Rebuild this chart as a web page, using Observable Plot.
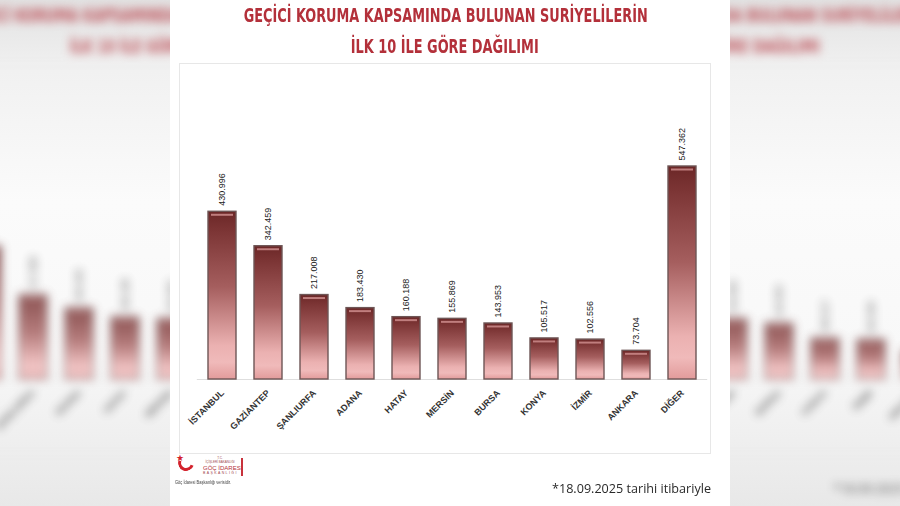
<!DOCTYPE html>
<html><head><meta charset="utf-8">
<script src="https://cdn.jsdelivr.net/npm/d3@7"></script>
<script src="https://cdn.jsdelivr.net/npm/@observablehq/plot@0.6"></script>
<style>
html,body{margin:0;padding:0;width:900px;height:506px;overflow:hidden;}
body{position:relative;background:linear-gradient(#e2e2e2 0%,#f1f1f1 14%,#fbfbfb 40%,#f8f8f8 70%,#e8e8e8 100%);font-family:"Liberation Sans",sans-serif;}
.side{position:absolute;top:0;width:170px;height:506px;overflow:hidden;}
.copy{position:absolute;top:0;width:560px;height:506px;filter:blur(5px);opacity:.8;}
.panel{position:absolute;left:170px;top:0;width:560px;height:506px;background:#fff;z-index:2;}
.title{position:absolute;left:0;width:550px;text-align:center;color:#b3303a;font-family:"Liberation Sans Narrow","DejaVu Sans Condensed",sans-serif;font-weight:bold;font-size:19.5px;line-height:1;white-space:nowrap;}
.fit{display:inline-block;transform-origin:center center;white-space:nowrap;}
.box{position:absolute;left:9px;top:63px;width:532px;height:391px;border:1px solid #e7e7e7;box-sizing:border-box;}
.chart{position:absolute;left:0;top:62px;}
.note{position:absolute;left:382px;top:479px;width:159px;font-family:"Open Sans",sans-serif;font-size:13px;color:#2a2a2a;line-height:18px;white-space:nowrap;}
.note .fit,.src .fit{transform-origin:left center;}
.cres{position:absolute;left:8px;top:455px;width:10px;height:10px;border:3px solid #d3222c;border-radius:50%;border-top-color:transparent;border-right-color:transparent;transform:rotate(-25deg);}
.star{position:absolute;left:6px;top:454px;font-size:9px;color:#d3222c;line-height:1;font-family:"DejaVu Sans",sans-serif;}
.lt{position:absolute;left:33px;width:34px;text-align:center;color:#a04850;font-family:"Liberation Sans",sans-serif;line-height:1;white-space:nowrap;}
.vbar{position:absolute;left:71px;top:458px;width:2px;height:18px;background:#c8323c;}
.src{position:absolute;left:5px;top:480px;width:56px;font-size:5.5px;color:#444;white-space:nowrap;line-height:1;}
</style></head>
<body>
<script>
const cities = ["İSTANBUL","GAZİANTEP","ŞANLIURFA","ADANA","HATAY","MERSİN","BURSA","KONYA","İZMİR","ANKARA","DİĞER"];
const counts = [430996, 342459, 217008, 183430, 160188, 155869, 143953, 105517, 102556, 73704, 547362];
const titleLines = ["GEÇİCİ KORUMA KAPSAMINDA BULUNAN SURİYELİLERİN", "İLK 10 İLE GÖRE DAĞILIMI"];
const noteText = "*18.09.2025 tarihi itibariyle";
const sourceText = "Göç İdaresi Başkanlığı verisidir.";

const trFormat = d3.formatLocale({decimal: ",", thousands: ".", grouping: [3], currency: ["", "₺"]}).format(",d");
const data = cities.map((c, i) => ({city: c, count: counts[i], label: trFormat(counts[i])}));

function makeChart() {
  const svg = Plot.plot({
    width: 560, height: 390,
    marginTop: 104, marginBottom: 73, marginLeft: 26.8, marginRight: 22.8,
    style: {fontFamily: "Liberation Sans, sans-serif", background: "transparent"},
    x: {domain: cities, paddingInner: 0.4, paddingOuter: 0.2, label: null},
    y: {domain: [0, d3.max(counts)], axis: null},
    marks: [
      Plot.ruleY([0], {stroke: "#dedede", strokeWidth: 1}),
      Plot.barY(data, {x: "city", y: "count", fill: "url(#barGrad)", stroke: "#6e5656", strokeWidth: 1.4}),
      Plot.tickY(data, {x: "city", y: "count", stroke: "#c07e7e", strokeWidth: 2, dy: 3, inset: 3}),
      Plot.text(data, {x: "city", y: "count", text: "label", rotate: -90, textAnchor: "start", dy: -6, fontSize: 9, fill: "#222"}),
      Plot.axisX({tickSize: 0, tickPadding: 12, tickRotate: -45, fontWeight: "bold", fontSize: 9, fill: "#333", dx: 0, label: null})
    ]
  });
  d3.select(svg).insert("defs", ":first-child").html(`
    <linearGradient id="barGrad" x1="0" y1="0" x2="0" y2="1">
      <stop offset="0" stop-color="#6b2727"/>
      <stop offset="0.1" stop-color="#7a3333"/>
      <stop offset="0.45" stop-color="#a55e5e"/>
      <stop offset="0.8" stop-color="#ebb1b1"/>
      <stop offset="0.9" stop-color="#f0baba"/>
      <stop offset="1" stop-color="#e29b9b"/>
    </linearGradient>`);
  return svg;
}

function makePanel(cls, parent, left) {
  const p = document.createElement("div");
  p.className = cls;
  if (left !== undefined) { p.style.left = left + "px"; p.setAttribute("aria-hidden", "true"); }
  p.innerHTML = `
    <div class="title" style="top:5.5px"><span class="fit" data-w="404">${titleLines[0]}</span></div>
    <div class="title" style="top:36.5px"><span class="fit" data-w="188">${titleLines[1]}</span></div>
    <div class="box"></div>
    <div class="note"><span class="fit" data-w="159">${noteText}</span></div>
    <div class="cres"></div><div class="star">★</div>
    <div class="lt" style="top:457px;font-size:3px">T.C.</div>
    <div class="lt" style="top:461px;font-size:3px">İÇİŞLERİ BAKANLIĞI</div>
    <div class="lt" style="top:465px;font-size:6px;color:#b3303a">GÖÇ İDARESİ</div>
    <div class="lt" style="top:472px;font-size:3.5px;letter-spacing:1.4px">BAŞKANLIĞI</div>
    <div class="vbar"></div>
    <div class="src"><span class="fit" data-w="56">${sourceText}</span></div>`;
  const c = document.createElement("div");
  c.className = "chart";
  c.appendChild(makeChart());
  p.appendChild(c);
  parent.appendChild(p);
  return p;
}

[[0, -111], [730, 451 - 730]].forEach(([left, off]) => {
  const d = document.createElement("div");
  d.className = "side";
  d.style.left = left + "px";
  d.setAttribute("aria-hidden", "true");
  document.body.appendChild(d);
  makePanel("copy", d, off);
});
makePanel("panel", document.body);

document.querySelectorAll(".fit").forEach(el => {
  const w = el.getBoundingClientRect().width;
  const target = +el.dataset.w;
  if (w > 0) el.style.transform = `scaleX(${target / w})`;
});
</script>
</body></html>
